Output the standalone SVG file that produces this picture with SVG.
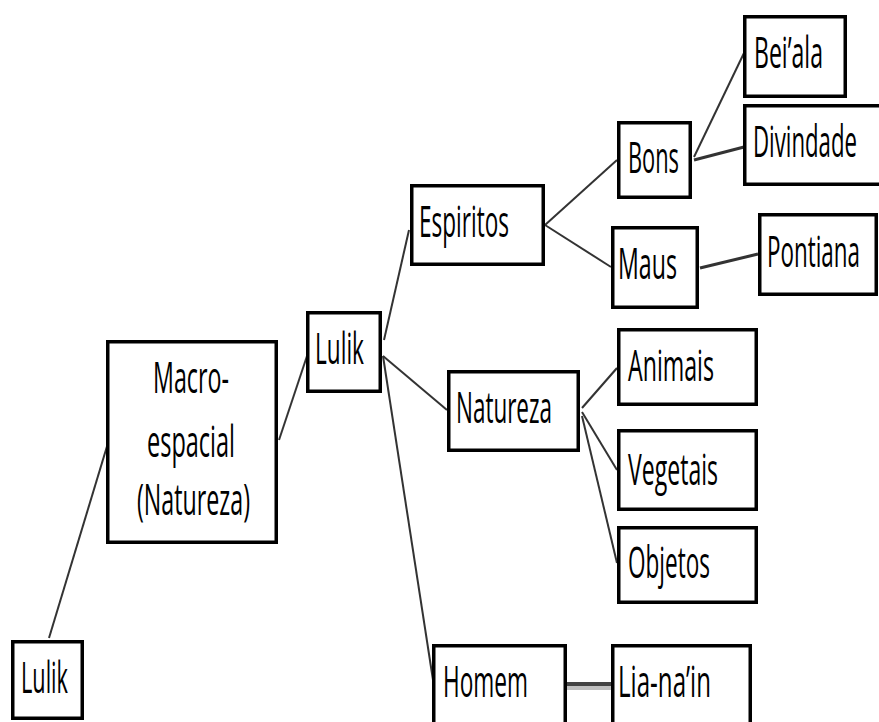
<svg xmlns="http://www.w3.org/2000/svg" width="879" height="722" viewBox="0 0 879 722">
<style>
.box{fill:#fff;stroke:#000;stroke-width:3.5}
.t{font-family:"Open Sans","Noto Sans",sans-serif;font-size:44px;fill:#000}
.c{stroke:#333;stroke-width:2;fill:none}
.c3{stroke:#333;stroke-width:3;fill:none}
</style>
<rect width="879" height="722" fill="#fff"/>
<g id="connectors">
<line class="c" x1="49" y1="638" x2="108" y2="443"/>
<line class="c" x1="279" y1="440" x2="308" y2="353"/>
<line class="c" x1="384" y1="340" x2="409" y2="230"/>
<line class="c" x1="383" y1="356" x2="447" y2="410"/>
<line class="c" x1="383" y1="356" x2="433" y2="680"/>
<line class="c" x1="545" y1="225" x2="617" y2="160"/>
<line class="c" x1="545" y1="225" x2="611" y2="267"/>
<line class="c" x1="694" y1="157" x2="744" y2="53"/>
<line class="c3" x1="694" y1="160" x2="744" y2="147"/>
<line class="c3" x1="700" y1="268" x2="758" y2="254"/>
<line class="c" x1="582" y1="408" x2="617" y2="368"/>
<line class="c" x1="582" y1="412" x2="617" y2="470"/>
<line class="c" x1="582" y1="416" x2="617" y2="563"/>
<line x1="567" y1="684" x2="611" y2="684" stroke="#444" stroke-width="4"/>
<line x1="567" y1="688" x2="611" y2="688" stroke="#c0c0c0" stroke-width="4"/>
</g>
<g id="lulik-root">
<rect class="box" x="12.75" y="641.75" width="69.5" height="76.5"/>
<text class="t" transform="translate(21,693) scale(0.5,1)" textLength="94" lengthAdjust="spacingAndGlyphs">Lulik</text>
</g>
<g id="macro">
<rect class="box" x="107.75" y="341.75" width="168.5" height="200.5"/>
<text class="t" transform="translate(153,393) scale(0.5,1)" textLength="152" lengthAdjust="spacingAndGlyphs">Macro-</text>
<text class="t" transform="translate(147,457) scale(0.5,1)" textLength="176" lengthAdjust="spacingAndGlyphs">espacial</text>
<text class="t" transform="translate(137,515) scale(0.5,1)" textLength="226" lengthAdjust="spacingAndGlyphs">(Natureza)</text>
</g>
<g id="lulik">
<rect class="box" x="307.75" y="312.75" width="72.5" height="78.5"/>
<text class="t" transform="translate(315,364) scale(0.5,1)" textLength="98" lengthAdjust="spacingAndGlyphs">Lulik</text>
</g>
<g id="espiritos">
<rect class="box" x="411.75" y="185.75" width="131.5" height="78.5"/>
<text class="t" transform="translate(419,237) scale(0.5,1)" textLength="180" lengthAdjust="spacingAndGlyphs">Espiritos</text>
</g>
<g id="bons">
<rect class="box" x="618.75" y="122.75" width="71.5" height="74.5"/>
<text class="t" transform="translate(628,173) scale(0.5,1)" textLength="102" lengthAdjust="spacingAndGlyphs">Bons</text>
</g>
<g id="maus">
<rect class="box" x="612.75" y="227.75" width="84.5" height="79.5"/>
<text class="t" transform="translate(618,279) scale(0.5,1)" textLength="118" lengthAdjust="spacingAndGlyphs">Maus</text>
</g>
<g id="beiala">
<rect class="box" x="744.75" y="16.75" width="100.5" height="79.5"/>
<text class="t" transform="translate(754,68) scale(0.5,1)" textLength="138" lengthAdjust="spacingAndGlyphs">Bei’ala</text>
</g>
<g id="divindade">
<rect class="box" x="744.75" y="105.75" width="150" height="78.5"/>
<text class="t" transform="translate(753,157) scale(0.5,1)" textLength="208" lengthAdjust="spacingAndGlyphs">Divindade</text>
</g>
<g id="pontiana">
<rect class="box" x="759.75" y="214.75" width="116.5" height="79.5"/>
<text class="t" transform="translate(767,267) scale(0.5,1)" textLength="186" lengthAdjust="spacingAndGlyphs">Pontiana</text>
</g>
<g id="natureza">
<rect class="box" x="448.75" y="371.75" width="129.5" height="78.5"/>
<text class="t" transform="translate(456,423) scale(0.5,1)" textLength="192" lengthAdjust="spacingAndGlyphs">Natureza</text>
</g>
<g id="animais">
<rect class="box" x="618.75" y="329.75" width="137.5" height="74.5"/>
<text class="t" transform="translate(628,381) scale(0.5,1)" textLength="172" lengthAdjust="spacingAndGlyphs">Animais</text>
</g>
<g id="vegetais">
<rect class="box" x="618.75" y="430.75" width="137.5" height="78.5"/>
<text class="t" transform="translate(628,485) scale(0.5,1)" textLength="180" lengthAdjust="spacingAndGlyphs">Vegetais</text>
</g>
<g id="objetos">
<rect class="box" x="618.75" y="527.75" width="137.5" height="74.5"/>
<text class="t" transform="translate(628,578) scale(0.5,1)" textLength="164" lengthAdjust="spacingAndGlyphs">Objetos</text>
</g>
<g id="homem">
<rect class="box" x="433.75" y="645.75" width="131.5" height="100"/>
<text class="t" transform="translate(443,697) scale(0.5,1)" textLength="170" lengthAdjust="spacingAndGlyphs">Homem</text>
</g>
<g id="lianain">
<rect class="box" x="612.75" y="645.75" width="137.5" height="100"/>
<text class="t" transform="translate(618,697) scale(0.5,1)" textLength="186" lengthAdjust="spacingAndGlyphs">Lia-na’in</text>
</g>
</svg>
